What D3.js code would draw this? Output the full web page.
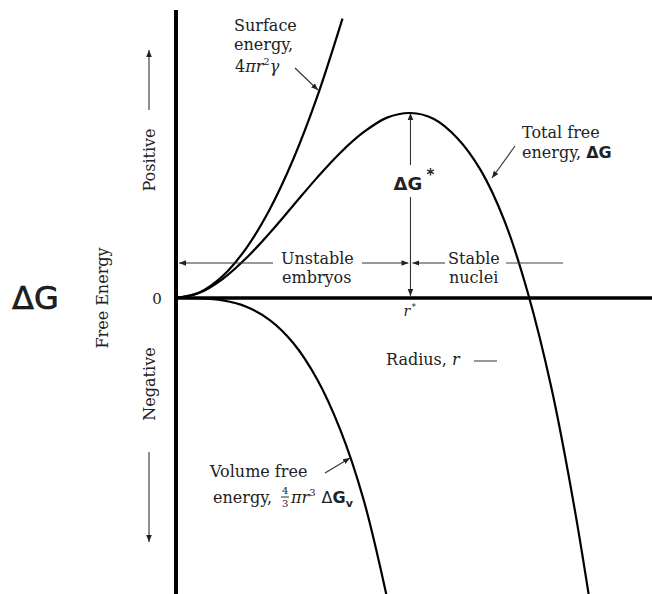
<!DOCTYPE html>
<html>
<head>
<meta charset="utf-8">
<script src="https://cdn.jsdelivr.net/npm/d3@7"></script>
<style>
  body { margin: 0; background: #fff; }
  text { font-family: "DejaVu Serif", serif; fill: #222; }
</style>
</head>
<body>
<div id="chart"></div>
<script>
// Radius in units of r*, free energy in units of dG*
const surfaceR = [0, 0.1, 0.2, 0.3, 0.4, 0.5, 0.6, 0.71];
const surfaceG = [0, 0.03, 0.12, 0.27, 0.48, 0.75, 1.08, 1.51];

const volumeR = [0, 0.1, 0.2, 0.3, 0.4, 0.5, 0.6, 0.7, 0.8, 0.9];
const volumeG = [0, -0.001, -0.013, -0.047, -0.119, -0.243, -0.435, -0.71, -1.09, -1.62];

const totalR = [0, 0.1, 0.2, 0.3, 0.4, 0.5, 0.6, 0.7, 0.8, 0.9, 1.0, 1.1, 1.2, 1.3, 1.4, 1.5, 1.6, 1.7, 1.8];
const totalG = [0, 0.028, 0.104, 0.216, 0.352, 0.5, 0.648, 0.784, 0.896, 0.975, 1.0, 0.968, 0.864, 0.69, 0.42, 0.03, -0.48, -1.14, -1.93];

const rStar = 1.0;
const gStar = 1.0;

const W = 652, H = 594;
const FS = "16px";

const svg = d3.select("#chart").append("svg")
  .attr("width", W)
  .attr("height", H);

const x = d3.scaleLinear().domain([0, 2.03]).range([176, 652]);
const y = d3.scaleLinear().domain([-1.6, 1.6]).range([594, 2]);

// arrowhead marker
const defs = svg.append("defs");
defs.append("marker")
  .attr("id", "head")
  .attr("viewBox", "0 0 10 10")
  .attr("refX", 10).attr("refY", 5)
  .attr("markerWidth", 7).attr("markerHeight", 7)
  .attr("markerUnits", "userSpaceOnUse")
  .attr("orient", "auto")
  .append("path")
  .attr("d", "M0,1 L10,5 L0,9 Z")
  .attr("fill", "#222");

function arrow(x1, y1, x2, y2) {
  svg.append("line")
    .attr("x1", x1).attr("y1", y1)
    .attr("x2", x2).attr("y2", y2)
    .attr("stroke", "#333")
    .attr("stroke-width", 1.1)
    .attr("marker-end", "url(#head)");
}
function seg(x1, y1, x2, y2) {
  svg.append("line")
    .attr("x1", x1).attr("y1", y1)
    .attr("x2", x2).attr("y2", y2)
    .attr("stroke", "#444")
    .attr("stroke-width", 1.1);
}
function label(tx, ty, str) {
  return svg.append("text").attr("x", tx).attr("y", ty).style("font-size", FS).text(str);
}

// Axes
svg.append("line")
  .attr("x1", x(0)).attr("x2", x(0))
  .attr("y1", 10).attr("y2", H)
  .attr("stroke", "#000").attr("stroke-width", 4);
svg.append("line")
  .attr("x1", x(0)).attr("x2", W)
  .attr("y1", y(0)).attr("y2", y(0))
  .attr("stroke", "#000").attr("stroke-width", 3.5);

// Curves
const line = d3.line()
  .x(d => x(d[0]))
  .y(d => y(d[1]))
  .curve(d3.curveCatmullRom);

const series = [
  d3.zip(surfaceR, surfaceG),
  d3.zip(volumeR, volumeG),
  d3.zip(totalR, totalG)
];
svg.selectAll("path.curve")
  .data(series)
  .enter()
  .append("path")
  .attr("class", "curve")
  .attr("d", line)
  .attr("fill", "none")
  .attr("stroke", "#000")
  .attr("stroke-width", 2.2);

// dG* vertical arrow
const xs = x(rStar);
arrow(xs, 165, xs, y(gStar));
arrow(xs, 197, xs, y(0) - 2);
svg.append("text")
  .attr("x", xs - 17).attr("y", 190)
  .style("font-family", "DejaVu Sans")
  .style("font-weight", "bold")
  .style("font-size", "18px")
  .text("\u0394G");
svg.append("text")
  .attr("x", xs + 16).attr("y", 180)
  .style("font-family", "DejaVu Sans")
  .style("font-weight", "bold")
  .style("font-size", "15px")
  .text("*");

// Unstable / stable arrows
const yb = 263;
arrow(273, yb, x(0) + 3, yb);
arrow(362, yb, xs - 2, yb);
label(281, 264, "Unstable");
label(282, 283, "embryos");

arrow(445, yb, xs + 2, yb);
seg(506, yb, 563, yb);
label(448, 264, "Stable");
label(449, 283, "nuclei");

// r*
svg.append("text").attr("x", xs - 7).attr("y", 316)
  .style("font-size", "14px").style("font-style", "italic").text("r");
svg.append("text").attr("x", xs + 1).attr("y", 310)
  .style("font-family", "DejaVu Sans").style("font-size", "9px").text("*");

// Radius label
label(386, 365, "Radius, ")
  .append("tspan").style("font-style", "italic").text("r");
seg(474, 361, 497, 361);

// Surface energy label
label(234, 31, "Surface");
label(234, 50, "energy,");
const se = label(235, 72, "4");
se.append("tspan").style("font-style", "italic").text("\u03c0r");
se.append("tspan").attr("dy", -7).style("font-size", "10px").text("2");
se.append("tspan").attr("dy", 7).style("font-style", "italic").text("\u03b3");
arrow(295, 68, 318, 90);

// Total free energy label
label(522, 138, "Total free");
const te = label(522, 158, "energy, ");
te.append("tspan").style("font-family", "DejaVu Sans").style("font-weight", "bold").text("\u0394G");
arrow(515, 146, 492, 178);

// Volume free energy label
label(210, 477, "Volume free");
label(213, 503, "energy,");
svg.append("text").attr("x", 282).attr("y", 494).style("font-size", "10px").text("4");
seg(281, 497, 289, 497);
svg.append("text").attr("x", 282).attr("y", 507).style("font-size", "10px").text("3");
const ve = label(291, 503, "");
ve.append("tspan").style("font-style", "italic").text("\u03c0r");
ve.append("tspan").attr("dy", -7).style("font-size", "10px").text("3");
ve.append("tspan").attr("dy", 7).attr("dx", 6).style("font-family", "DejaVu Sans").text("\u0394");
ve.append("tspan").style("font-family", "DejaVu Sans").style("font-weight", "bold").text("G");
ve.append("tspan").attr("dy", 4).style("font-family", "DejaVu Sans").style("font-weight", "bold")
  .style("font-size", "11px").text("v");
arrow(325, 473, 350, 458);

// Left labels
svg.append("text").attr("x", 157).attr("y", 304)
  .attr("text-anchor", "middle").style("font-size", "15px").text("0");

svg.append("text")
  .attr("transform", "translate(108,298) rotate(-90)")
  .attr("text-anchor", "middle").style("font-size", FS).text("Free Energy");

svg.append("text")
  .attr("transform", "translate(155,160) rotate(-90)")
  .attr("text-anchor", "middle").style("font-size", FS).text("Positive");
arrow(149, 110, 149, 50);

svg.append("text")
  .attr("transform", "translate(155,384) rotate(-90)")
  .attr("text-anchor", "middle").style("font-size", FS).text("Negative");
arrow(149, 452, 149, 542);

svg.append("text")
  .attr("x", 12).attr("y", 309)
  .style("font-family", "DejaVu Sans")
  .style("font-size", "32px")
  .style("stroke", "#000").style("stroke-width", 0.6)
  .text("\u0394G");
</script>
</body>
</html>
